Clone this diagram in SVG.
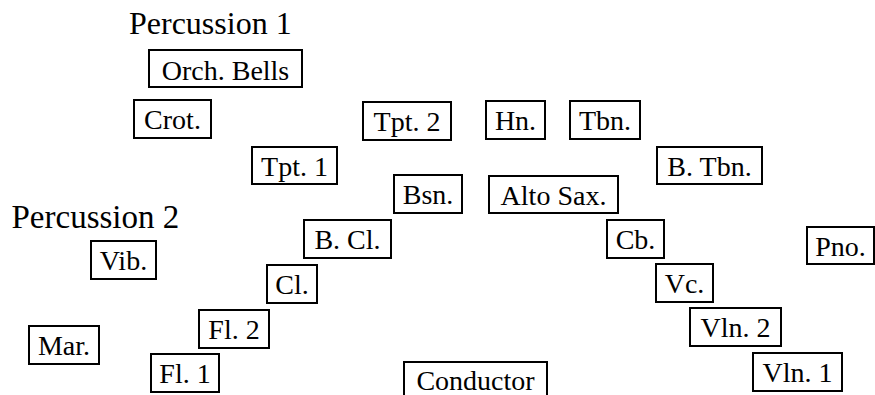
<svg xmlns="http://www.w3.org/2000/svg" width="875" height="395" viewBox="0 0 875 395">
<style>
  .b { fill: #ffffff; stroke: #000000; stroke-width: 2; }
  .t { font-family: "Liberation Serif", "Times New Roman", serif; font-size: 28px; fill: #000000; text-anchor: middle; }
  .h { font-family: "Liberation Serif", "Times New Roman", serif; font-size: 32px; fill: #000000; }
</style>
<rect x="0" y="0" width="875" height="395" fill="#ffffff"/>
<g id="label-percussion-1"><text class="h" x="129" y="34">Percussion 1</text></g>
<g id="label-percussion-2"><text class="h" x="11.5" y="228" style="font-size:33px">Percussion 2</text></g>

<g id="orch-bells"><rect class="b" x="149" y="50" width="153" height="37"/><text class="t" x="225.5" y="80">Orch. Bells</text></g>
<g id="crot"><rect class="b" x="134" y="100" width="77" height="38"/><text class="t" x="172.5" y="129">Crot.</text></g>
<g id="tpt-2"><rect class="b" x="363" y="102" width="88" height="38"/><text class="t" x="407" y="131">Tpt. 2</text></g>
<g id="hn"><rect class="b" x="486" y="101" width="59" height="38"/><text class="t" x="515.5" y="130">Hn.</text></g>
<g id="tbn"><rect class="b" x="570" y="101" width="70" height="38"/><text class="t" x="605" y="130">Tbn.</text></g>
<g id="tpt-1"><rect class="b" x="252" y="147" width="85" height="37"/><text class="t" x="294.5" y="175.5">Tpt. 1</text></g>
<g id="b-tbn"><rect class="b" x="657" y="147" width="105" height="37"/><text class="t" x="709.5" y="175.5">B. Tbn.</text></g>
<g id="bsn"><rect class="b" x="394" y="175" width="68" height="38"/><text class="t" x="428" y="204">Bsn.</text></g>
<g id="alto-sax"><rect class="b" x="489" y="176" width="129" height="37"/><text class="t" x="553.5" y="204.5">Alto Sax.</text></g>
<g id="b-cl"><rect class="b" x="304" y="220" width="87" height="38"/><text class="t" x="347.5" y="249">B. Cl.</text></g>
<g id="cb"><rect class="b" x="607" y="220" width="57" height="38"/><text class="t" x="635.5" y="249">Cb.</text></g>
<g id="vib"><rect class="b" x="91" y="241" width="65" height="38"/><text class="t" x="123.5" y="270">Vib.</text></g>
<g id="pno"><rect class="b" x="807" y="227" width="67" height="37"/><text class="t" x="840.5" y="255.5">Pno.</text></g>
<g id="cl"><rect class="b" x="267" y="265" width="50" height="38"/><text class="t" x="292" y="294">Cl.</text></g>
<g id="vc"><rect class="b" x="656" y="264" width="57" height="38"/><text class="t" x="684.5" y="293">Vc.</text></g>
<g id="fl-2"><rect class="b" x="199" y="310" width="70" height="38"/><text class="t" x="234" y="339">Fl. 2</text></g>
<g id="vln-2"><rect class="b" x="690" y="308" width="91" height="38"/><text class="t" x="735.5" y="337">Vln. 2</text></g>
<g id="mar"><rect class="b" x="29" y="326" width="70" height="38"/><text class="t" x="64" y="355">Mar.</text></g>
<g id="fl-1"><rect class="b" x="151" y="354" width="68" height="38"/><text class="t" x="185" y="383">Fl. 1</text></g>
<g id="vln-1"><rect class="b" x="753" y="353" width="89" height="38"/><text class="t" x="797.5" y="382">Vln. 1</text></g>
<g id="conductor"><rect class="b" x="404" y="362" width="143" height="45"/><text class="t" x="475.5" y="390">Conductor</text></g>
</svg>
